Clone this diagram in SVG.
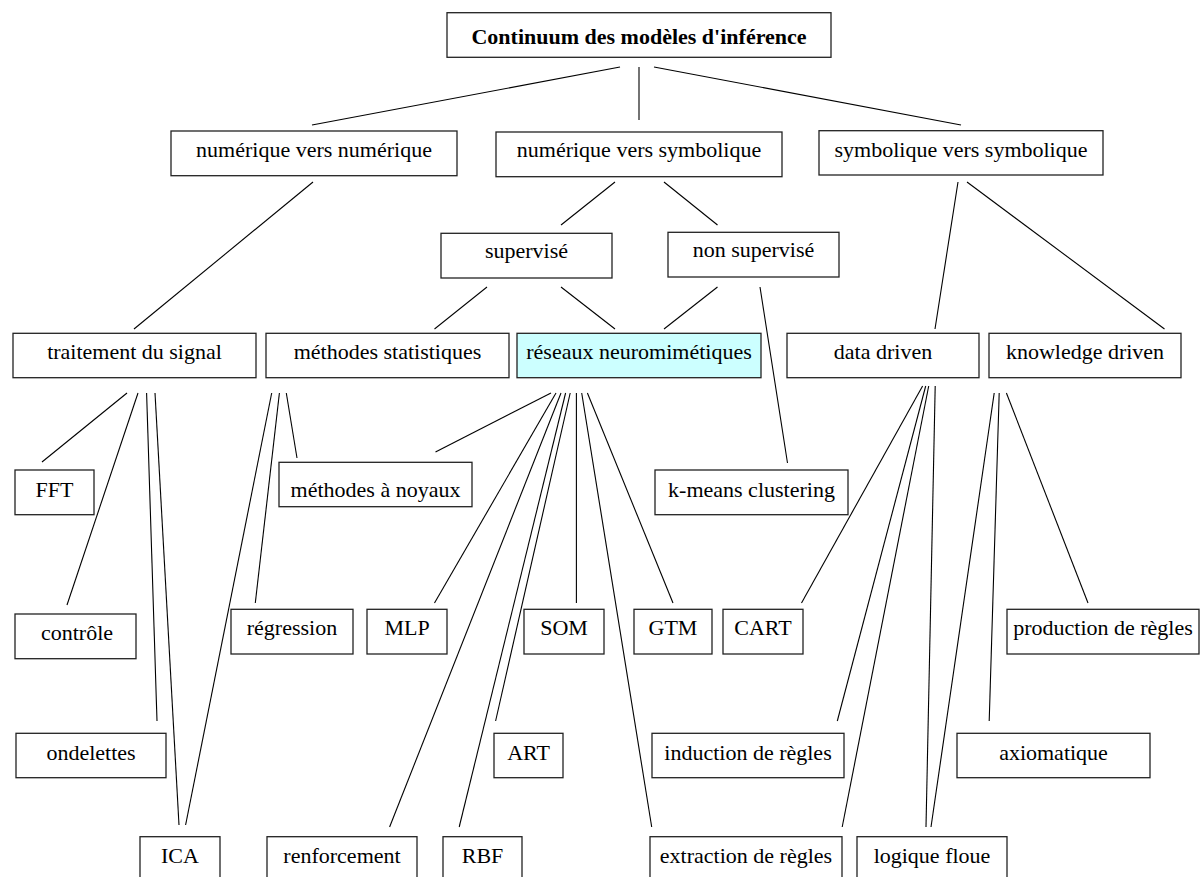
<svg xmlns="http://www.w3.org/2000/svg" width="1200" height="877" viewBox="0 0 1200 877">
<style>
.b{fill:#fff;stroke:#222;stroke-width:1.3}
.c{fill:#ccffff;stroke:#222;stroke-width:1.3}
.t{font-family:"Liberation Serif","Times New Roman",serif;font-size:22px;fill:#000;text-anchor:middle}
.tb{font-weight:bold}
#connectors line{stroke:#000;stroke-width:1.1}
</style>
<rect width="1200" height="877" fill="#fff"/>
<g id="connectors">
<line x1="620" y1="67" x2="312" y2="125"/>
<line x1="639" y1="67" x2="639" y2="120"/>
<line x1="654" y1="67" x2="961" y2="125"/>
<line x1="313" y1="182" x2="134" y2="329"/>
<line x1="615" y1="182" x2="561" y2="225"/>
<line x1="664" y1="182" x2="717.5" y2="225"/>
<line x1="958" y1="182" x2="935" y2="329"/>
<line x1="967" y1="182" x2="1164.5" y2="329"/>
<line x1="487" y1="287" x2="434.5" y2="329"/>
<line x1="561" y1="287" x2="615" y2="329"/>
<line x1="717.5" y1="287" x2="664" y2="329"/>
<line x1="760" y1="287" x2="787.5" y2="463"/>
<line x1="127" y1="393" x2="42" y2="462"/>
<line x1="138" y1="393" x2="67" y2="605"/>
<line x1="146.6" y1="393" x2="157" y2="721"/>
<line x1="155" y1="393" x2="179" y2="825"/>
<line x1="271.7" y1="393" x2="185.6" y2="825"/>
<line x1="279.4" y1="393" x2="255.3" y2="603"/>
<line x1="286.3" y1="393" x2="297" y2="458"/>
<line x1="551" y1="393" x2="435.5" y2="452"/>
<line x1="556" y1="393" x2="434.5" y2="603"/>
<line x1="561" y1="393" x2="389.6" y2="827"/>
<line x1="565.6" y1="393" x2="459.2" y2="827"/>
<line x1="570.2" y1="393" x2="495.6" y2="721"/>
<line x1="576.4" y1="393" x2="576.4" y2="603"/>
<line x1="581.7" y1="393" x2="651.7" y2="827"/>
<line x1="587.4" y1="393" x2="673" y2="603"/>
<line x1="922.6" y1="386" x2="801.5" y2="603"/>
<line x1="925.7" y1="386" x2="837.3" y2="721"/>
<line x1="928.7" y1="386" x2="842.2" y2="827"/>
<line x1="935.2" y1="386" x2="926" y2="827"/>
<line x1="994.2" y1="393" x2="931" y2="827"/>
<line x1="999.2" y1="393" x2="989.2" y2="721"/>
<line x1="1006.4" y1="393" x2="1088" y2="603"/>
</g>
<g id="n-root"><rect class="b" x="447" y="12.7" width="384" height="44.6"/><text class="t tb" x="639" y="44">Continuum des modèles d'inférence</text></g>
<g id="n-nvn"><rect class="b" x="171" y="131" width="286" height="44.7"/><text class="t" x="314" y="157">numérique vers numérique</text></g>
<g id="n-nvs"><rect class="b" x="496" y="132" width="286" height="44.7"/><text class="t" x="639" y="157">numérique vers symbolique</text></g>
<g id="n-svs"><rect class="b" x="819" y="130.7" width="284" height="44.3"/><text class="t" x="961" y="157">symbolique vers symbolique</text></g>
<g id="n-sup"><rect class="b" x="441" y="233.3" width="171" height="44.7"/><text class="t" x="526.5" y="258">supervisé</text></g>
<g id="n-nonsup"><rect class="b" x="668" y="232.3" width="171" height="44.7"/><text class="t" x="753.5" y="257">non supervisé</text></g>
<g id="n-signal"><rect class="b" x="13" y="333.3" width="243" height="44.4"/><text class="t" x="134.5" y="359.3">traitement du signal</text></g>
<g id="n-stat"><rect class="b" x="266" y="333.3" width="243" height="44.4"/><text class="t" x="387.5" y="359.3">méthodes statistiques</text></g>
<g id="n-reseaux"><rect class="c" x="517" y="333.3" width="244" height="44.4"/><text class="t" x="639" y="359.3">réseaux neuromimétiques</text></g>
<g id="n-data"><rect class="b" x="787" y="333.3" width="192" height="44.4"/><text class="t" x="883" y="359.3">data driven</text></g>
<g id="n-know"><rect class="b" x="989" y="333.3" width="192" height="44.4"/><text class="t" x="1085" y="359.3">knowledge driven</text></g>
<g id="n-fft"><rect class="b" x="15" y="470" width="79" height="44.7"/><text class="t" x="54.5" y="496.7">FFT</text></g>
<g id="n-noyaux"><rect class="b" x="279" y="462.3" width="193" height="44.4"/><text class="t" x="375.5" y="496.7">méthodes à noyaux</text></g>
<g id="n-kmeans"><rect class="b" x="655" y="470" width="193" height="44.7"/><text class="t" x="751.5" y="496.7">k-means clustering</text></g>
<g id="n-controle"><rect class="b" x="15" y="614" width="121" height="44.7"/><text class="t" x="77" y="640">contrôle</text></g>
<g id="n-regression"><rect class="b" x="231" y="609.3" width="122" height="44.7"/><text class="t" x="292" y="635">régression</text></g>
<g id="n-mlp"><rect class="b" x="367" y="609.3" width="80" height="44.7"/><text class="t" x="407" y="635">MLP</text></g>
<g id="n-som"><rect class="b" x="524" y="609.3" width="80" height="44.7"/><text class="t" x="564" y="635">SOM</text></g>
<g id="n-gtm"><rect class="b" x="634" y="609.3" width="78" height="44.7"/><text class="t" x="673" y="635">GTM</text></g>
<g id="n-cart"><rect class="b" x="723" y="609.3" width="80" height="44.7"/><text class="t" x="763" y="635">CART</text></g>
<g id="n-prod"><rect class="b" x="1007" y="609.3" width="192" height="44.7"/><text class="t" x="1103" y="635">production de règles</text></g>
<g id="n-ondelettes"><rect class="b" x="16" y="733.3" width="150" height="44.4"/><text class="t" x="91" y="760">ondelettes</text></g>
<g id="n-art"><rect class="b" x="494" y="733.3" width="69" height="44.4"/><text class="t" x="528.5" y="760">ART</text></g>
<g id="n-induction"><rect class="b" x="652" y="733.3" width="192" height="44.4"/><text class="t" x="748" y="760">induction de règles</text></g>
<g id="n-axio"><rect class="b" x="957" y="733.3" width="193" height="44.4"/><text class="t" x="1053.5" y="760">axiomatique</text></g>
<g id="n-ica"><rect class="b" x="140" y="836.7" width="80" height="44.5"/><text class="t" x="180" y="863.3">ICA</text></g>
<g id="n-renf"><rect class="b" x="267" y="836.7" width="150" height="44.5"/><text class="t" x="342" y="863.3">renforcement</text></g>
<g id="n-rbf"><rect class="b" x="443" y="836.7" width="79" height="44.5"/><text class="t" x="482.5" y="863.3">RBF</text></g>
<g id="n-extraction"><rect class="b" x="650" y="836.7" width="192" height="44.5"/><text class="t" x="746" y="863.3">extraction de règles</text></g>
<g id="n-logique"><rect class="b" x="857" y="836.7" width="150" height="44.5"/><text class="t" x="932" y="863.3">logique floue</text></g>
</svg>
